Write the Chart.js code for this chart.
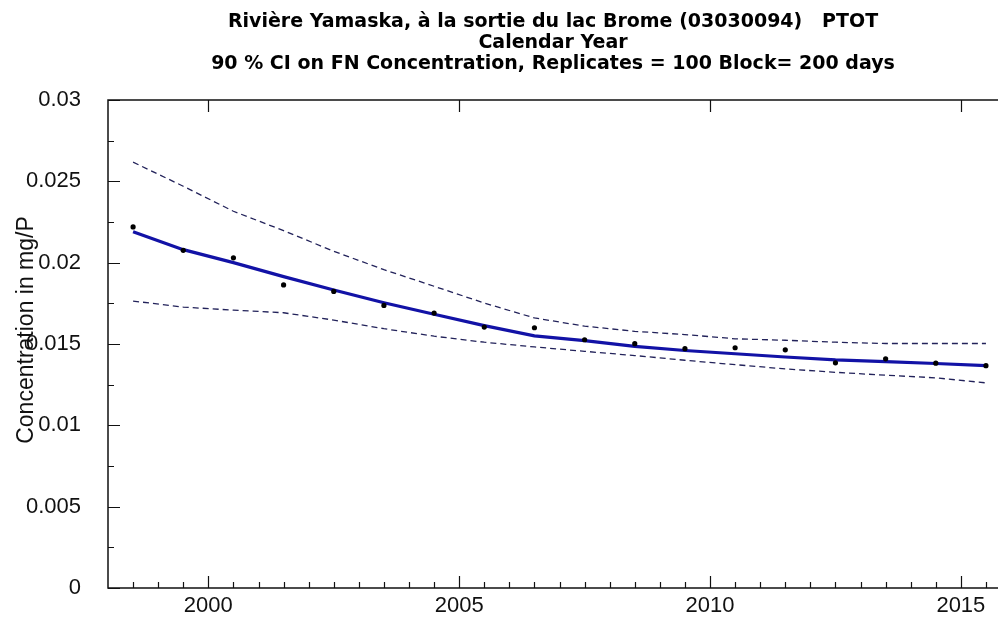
<!DOCTYPE html>
<html>
<head>
<meta charset="utf-8">
<script src="https://cdn.jsdelivr.net/npm/chart.js@4/dist/chart.umd.min.js"></script>
<style>
  html, body { margin: 0; padding: 0; background: #fff; }
  #wrap { width: 998px; height: 633px; }
</style>
</head>
<body>
<div id="wrap"><canvas id="chart" width="998" height="633"></canvas></div>
<script>
const years = [1998.5, 1999.5, 2000.5, 2001.5, 2002.5, 2003.5, 2004.5, 2005.5, 2006.5,
               2007.5, 2008.5, 2009.5, 2010.5, 2011.5, 2012.5, 2013.5, 2014.5, 2015.5];
const observed = [0.0222, 0.02076, 0.0203, 0.01863, 0.01823, 0.01737, 0.0169, 0.01604, 0.0160,
                  0.01526, 0.01502, 0.01471, 0.01477, 0.01464, 0.01384, 0.01409, 0.01382, 0.01367];
const fnConc = [0.0219, 0.0208, 0.0200, 0.01914, 0.01832, 0.01754, 0.01683, 0.01613, 0.0155,
                0.01521, 0.01485, 0.0146, 0.0144, 0.0142, 0.01402, 0.01392, 0.0138, 0.01367];
const ciUpper = [0.02618, 0.0247, 0.02316, 0.02197, 0.0207, 0.01957, 0.01855, 0.01752, 0.0166,
                 0.0161, 0.01578, 0.01558, 0.01532, 0.01523, 0.01511, 0.01503, 0.01503, 0.01503];
const ciLower = [0.01764, 0.01727, 0.01708, 0.01692, 0.01647, 0.01594, 0.01548, 0.01511, 0.01482,
                 0.01455, 0.01429, 0.014, 0.01373, 0.01347, 0.01326, 0.01308, 0.01292, 0.01261];
const xLabels = [2000, 2005, 2010, 2015];
const yLabels = [0, 0.005, 0.01, 0.015, 0.02, 0.025, 0.03];
const titleLines = [
  'Rivière Yamaska, à la sortie du lac Brome (03030094)   PTOT',
  'Calendar Year',
  '90 % CI on FN Concentration, Replicates = 100 Block= 200 days'
];
const yTitle = 'Concentration in mg/P';

const pts = (arr) => arr.map((v, i) => ({ x: years[i], y: v }));
const FONT = "'Liberation Sans', Arial, sans-serif";

// frame, inward tick marks and the y title, placed via the chart's own scales
const frameTicks = {
  id: 'frameTicks',
  afterDraw(chart) {
    const { ctx, chartArea: a, scales: { x, y } } = chart;
    ctx.save();
    ctx.strokeStyle = '#111';
    ctx.lineWidth = 1.5;
    ctx.beginPath();
    ctx.moveTo(a.right, a.top); ctx.lineTo(a.left, a.top);
    ctx.lineTo(a.left, a.bottom); ctx.lineTo(a.right, a.bottom);
    ctx.stroke();
    ctx.lineWidth = 1.2;
    ctx.beginPath();
    for (let v = 0; v <= 0.03 + 1e-9; v += 0.0025) {
      const py = Math.round(y.getPixelForValue(v)) + 0.5;
      const major = Math.abs(v / 0.005 - Math.round(v / 0.005)) < 1e-6;
      ctx.moveTo(a.left, py); ctx.lineTo(a.left + (major ? 12 : 6), py);
    }
    for (let v = 1998.5; v <= 2015.6; v += 0.5) {
      const px = Math.round(x.getPixelForValue(v)) + 0.5;
      const major = v % 5 === 0;
      ctx.moveTo(px, a.bottom); ctx.lineTo(px, a.bottom - (major ? 12 : 6));
      if (major) { ctx.moveTo(px, a.top); ctx.lineTo(px, a.top + 12); }
    }
    ctx.stroke();

    ctx.translate(27, (a.top + a.bottom) / 2 - 14);
    ctx.rotate(-Math.PI / 2);
    ctx.fillStyle = '#111';
    ctx.font = `23px ${FONT}`;
    ctx.textAlign = 'center';
    ctx.textBaseline = 'middle';
    ctx.fillText(yTitle, 0, 0);
    ctx.restore();
  }
};

new Chart(document.getElementById('chart'), {
  type: 'line',
  data: {
    datasets: [
      { label: 'Observed', data: pts(observed), showLine: false, pointRadius: 2.6,
        pointBackgroundColor: '#000', pointBorderWidth: 0 },
      { label: 'FN Concentration', data: pts(fnConc), borderColor: '#1212a6', borderWidth: 3.2,
        pointRadius: 0, tension: 0 },
      { label: 'CI upper', data: pts(ciUpper), borderColor: '#22225a', borderWidth: 1.3,
        borderDash: [6, 4], pointRadius: 0 },
      { label: 'CI lower', data: pts(ciLower), borderColor: '#22225a', borderWidth: 1.3,
        borderDash: [6, 4], pointRadius: 0 }
    ]
  },
  options: {
    responsive: false,
    animation: false,
    devicePixelRatio: 1,
    layout: { padding: 0, autoPadding: false },
    plugins: {
      legend: { display: false },
      tooltip: { enabled: false },
      title: {
        display: true,
        fullSize: false,
        text: titleLines,
        color: '#000',
        font: { family: "'DejaVu Sans', sans-serif", size: 19, weight: 'bold', lineHeight: 1.1 },
        padding: { top: 12, bottom: 25.3 }
      }
    },
    scales: {
      x: {
        type: 'linear',
        min: 1998,
        max: 2015.74,
        grid: { display: false, drawTicks: false },
        border: { display: false },
        afterBuildTicks: (s) => { s.ticks = xLabels.map(v => ({ value: v })); },
        afterFit: (s) => { s.height = 45; s.paddingLeft = 0; s.paddingRight = 0; },
        ticks: { color: '#111', font: { family: FONT, size: 22 }, padding: 5,
                 maxRotation: 0, callback: (v) => String(v) }
      },
      y: {
        min: 0,
        max: 0.03,
        grid: { display: false, drawTicks: false },
        border: { display: false },
        afterBuildTicks: (s) => { s.ticks = yLabels.map(v => ({ value: v })); },
        afterFit: (s) => { s.width = 108; },
        ticks: { color: '#111', font: { family: FONT, size: 22 }, padding: 27,
                 callback: (v) => String(Number(v.toFixed(4))) }
      }
    }
  },
  plugins: [frameTicks]
});
</script>
</body>
</html>
